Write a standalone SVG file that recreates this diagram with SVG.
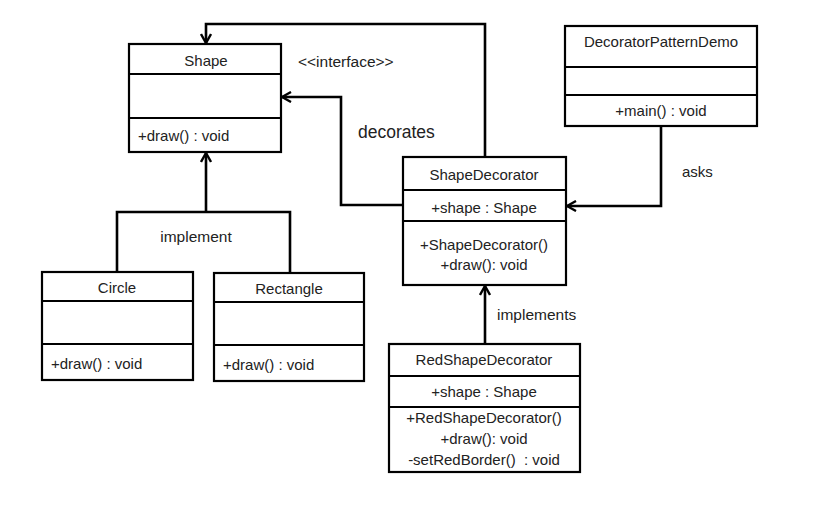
<svg xmlns="http://www.w3.org/2000/svg" width="818" height="515" viewBox="0 0 818 515">
<defs>
<style>
.box{fill:#fff;stroke:#000;stroke-width:2.2}
.sep{stroke:#000;stroke-width:2}
.t{font-family:"Liberation Sans",Arial,sans-serif;font-size:15px;fill:#222;white-space:pre}
.c{text-anchor:middle}
.lbl{font-family:"Liberation Sans",Arial,sans-serif;fill:#222}
.con{fill:none;stroke:#000;stroke-width:2.6}
</style>
<marker id="arr" viewBox="0 0 12 12" refX="11" refY="6" markerWidth="12" markerHeight="12" markerUnits="userSpaceOnUse" orient="auto">
<path d="M2,1 L11,6 L2,11" fill="none" stroke="#000" stroke-width="2.4"/>
</marker>
</defs>
<rect width="818" height="515" fill="#fff"/>

<g id="connectors">
<polyline class="con" points="485,157 485,24 206,24 206,43" marker-end="url(#arr)"/>
<polyline class="con" points="403,205 341,205 341,97 282,97" marker-end="url(#arr)"/>
<polyline class="con" points="661,126 661,206 567,206" marker-end="url(#arr)"/>
<polyline class="con" points="117,272 117,212 290,212 290,273"/>
<polyline class="con" points="206,212 206,153" marker-end="url(#arr)"/>
<polyline class="con" points="485,344 485,286" marker-end="url(#arr)"/>
<text class="lbl" x="298" y="67" font-size="15.5">&lt;&lt;interface&gt;&gt;</text>
<text class="lbl" x="358" y="138" font-size="17.5">decorates</text>
<text class="lbl" x="682" y="177" font-size="15">asks</text>
<text class="lbl" x="196" y="242" font-size="15.5" text-anchor="middle">implement</text>
<text class="lbl" x="497" y="320" font-size="15.5">implements</text>
</g>

<g id="Shape">
<rect class="box" x="129" y="44" width="152" height="108"/>
<line class="sep" x1="129" y1="74" x2="281" y2="74"/>
<line class="sep" x1="129" y1="118" x2="281" y2="118"/>
<text class="t c" x="206" y="66">Shape</text>
<text class="t" x="138" y="141">+draw() : void</text>
</g>

<g id="DecoratorPatternDemo">
<rect class="box" x="565" y="26" width="192" height="100"/>
<line class="sep" x1="565" y1="67" x2="757" y2="67"/>
<line class="sep" x1="565" y1="95" x2="757" y2="95"/>
<text class="t c" x="661" y="47">DecoratorPatternDemo</text>
<text class="t c" x="661" y="116">+main() : void</text>
</g>

<g id="ShapeDecorator">
<rect class="box" x="403" y="157" width="163" height="128"/>
<line class="sep" x1="403" y1="190" x2="566" y2="190"/>
<line class="sep" x1="403" y1="221" x2="566" y2="221"/>
<text class="t c" x="484" y="180">ShapeDecorator</text>
<text class="t c" x="484" y="213">+shape : Shape</text>
<text class="t c" x="484" y="250">+ShapeDecorator()</text>
<text class="t c" x="484" y="270">+draw(): void</text>
</g>

<g id="Circle">
<rect class="box" x="42" y="272" width="151" height="108"/>
<line class="sep" x1="42" y1="301" x2="193" y2="301"/>
<line class="sep" x1="42" y1="344" x2="193" y2="344"/>
<text class="t c" x="117" y="293">Circle</text>
<text class="t" x="51" y="369">+draw() : void</text>
</g>

<g id="Rectangle">
<rect class="box" x="214" y="273" width="150" height="108"/>
<line class="sep" x1="214" y1="302" x2="364" y2="302"/>
<line class="sep" x1="214" y1="345" x2="364" y2="345"/>
<text class="t c" x="289" y="294">Rectangle</text>
<text class="t" x="223" y="370">+draw() : void</text>
</g>

<g id="RedShapeDecorator">
<rect class="box" x="389" y="344" width="191" height="128"/>
<line class="sep" x1="389" y1="376" x2="580" y2="376"/>
<line class="sep" x1="389" y1="407" x2="580" y2="407"/>
<text class="t c" x="484" y="365">RedShapeDecorator</text>
<text class="t c" x="484" y="397">+shape : Shape</text>
<text class="t c" x="484" y="423">+RedShapeDecorator()</text>
<text class="t c" x="484" y="444">+draw(): void</text>
<text class="t c" x="484" y="465">-setRedBorder()  : void</text>
</g>
</svg>
